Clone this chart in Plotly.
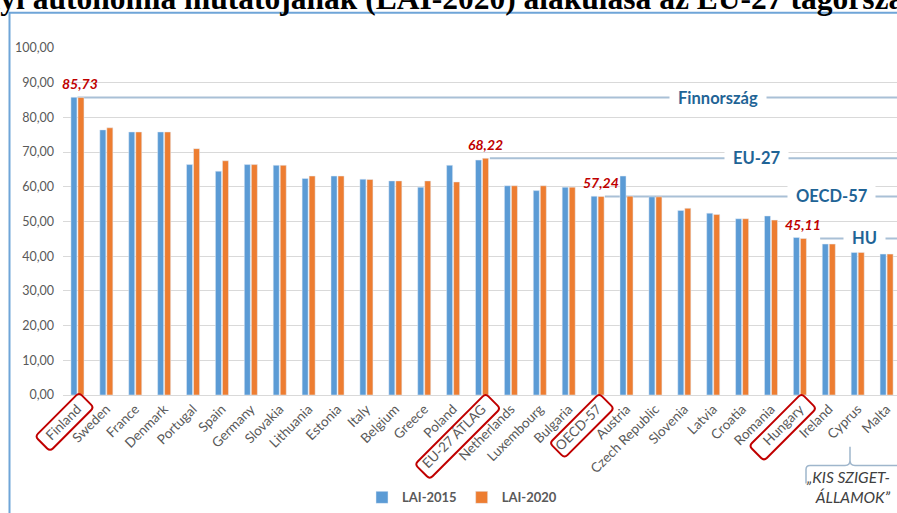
import math
import plotly.graph_objects as go

# ---------------- data ----------------
categories = ["Finland", "Sweden", "France", "Denmark", "Portugal", "Spain", "Germany",
              "Slovakia", "Lithuania", "Estonia", "Italy", "Belgium", "Greece", "Poland",
              "EU-27 ÁTLAG", "Netherlands", "Luxembourg", "Bulgaria", "OECD-57", "Austria",
              "Czech Republic", "Slovenia", "Latvia", "Croatia", "Romania", "Hungary",
              "Ireland", "Cyprus", "Malta"]
lai2015 = [85.8, 76.4, 75.8, 75.8, 66.4, 64.5, 66.4, 66.2, 62.4, 63.1, 62.2, 61.7, 59.9, 66.2,
           67.7, 60.3, 58.9, 59.9, 57.3, 63.1, 57.1, 53.2, 52.4, 50.8, 51.6, 45.4, 43.5, 41.1, 40.6]
lai2020 = [85.73, 77.0, 75.8, 75.8, 71.0, 67.5, 66.4, 66.2, 63.1, 63.1, 62.1, 61.7, 61.7, 61.4,
           68.22, 60.3, 60.3, 59.9, 57.24, 57.3, 57.1, 53.8, 52.0, 50.8, 50.4, 45.11, 43.5, 41.1, 40.6]
series_names = ["LAI-2015", "LAI-2020"]
y_ticks = [0, 10, 20, 30, 40, 50, 60, 70, 80, 90, 100]

highlighted = ["Finland", "EU-27 ÁTLAG", "OECD-57", "Hungary"]
ref_labels = ["Finnország", "EU-27", "OECD-57", "HU"]
title_text = "helyi autonómia mutatójának (LAI-2020) alakulása az EU-27 tagországaiban"
callout_text = "„KIS SZIGET-<br>ÁLLAMOK”"

# ---------------- styling ----------------
W, H = 897, 513
ML, MR, MT, MB = 63, 0, 48, 116
XR = [-0.5, 28.36]
BLUE, ORANGE = "#5B9BD5", "#ED7D31"
GRID = "#D9D9D9"
TXT = "#595959"
RED = "#C00000"
REFLINE = "#A9C0D6"
REFTXT = "#1F6496"
FONT = "Lato, 'Open Sans', sans-serif"

PW, PH = W - ML - MR, H - MT - MB


def px(x):
    return (x - ML) / PW


def py(y):
    return (H - MB - y) / PH


def fmt(v):
    return f"{v:.2f}".replace(".", ",")


fig = go.Figure()
fig.add_trace(go.Bar(x=categories, y=lai2015, name=series_names[0], marker_color=BLUE))
fig.add_trace(go.Bar(x=categories, y=lai2020, name=series_names[1], marker_color=ORANGE))

shapes = []
annotations = []

# reference lines with labels
line_start = [0.0, 0.27, 0.25, 0.7]       # offset from category centre
label_x = [22.16, 23.5, 26.1, 27.25]      # label positions (category units)
for name, lab, off, lx in zip(highlighted, ref_labels, line_start, label_x):
    i = categories.index(name)
    v = lai2020[i]
    shapes.append(dict(type="line", xref="x", yref="y", x0=i + off, x1=XR[1] + 1,
                       y0=v, y1=v, line=dict(color=REFLINE, width=2), layer="below"))
    annotations.append(dict(x=lx, y=v, xref="x", yref="y", showarrow=False,
                            text="\u00a0\u00a0" + lab + "\u00a0\u00a0", bgcolor="white",
                            borderpad=0,
                            font=dict(family=FONT, size=16.5, color=REFTXT, weight="bold")))
    # red value label
    annotations.append(dict(x=i, y=v, xref="x", yref="y", showarrow=False, text=fmt(v),
                            yshift=14, xshift=3, yanchor="middle",
                            font=dict(family=FONT, size=14, color=RED, weight="bold",
                                      style="italic")))

# red rounded boxes around highlighted tick labels
box_len = {"Finland": 62, "EU-27 ÁTLAG": 100, "OECD-57": 70, "Hungary": 74}
box_dx = {"Finland": 9, "EU-27 ÁTLAG": 11, "OECD-57": 9, "Hungary": 9}
box_dy = {"Finland": 5, "EU-27 ÁTLAG": 6, "OECD-57": 6, "Hungary": 6}


def rot_box(tx, ty, length, width, ang_deg, r=4):
    c, s = math.cos(math.radians(ang_deg)), math.sin(math.radians(ang_deg))
    d = (-c, -s)            # along the label, going down-left (y up positive)
    n = (s, -c)
    h = width / 2.0

    def P(u, v):
        return f"{tx + u * d[0] + v * n[0]:.2f},{ty + u * d[1] + v * n[1]:.2f}"

    L = length
    return (f"M{P(r, -h)} L{P(L - r, -h)} Q{P(L, -h)} {P(L, -h + r)} L{P(L, h - r)} "
            f"Q{P(L, h)} {P(L - r, h)} L{P(r, h)} Q{P(0, h)} {P(0, h - r)} "
            f"L{P(0, -h + r)} Q{P(0, -h)} {P(r, -h)} Z")


for name in highlighted:
    i = categories.index(name)
    xa = (i - XR[0]) / (XR[1] - XR[0])
    shapes.append(dict(type="path", xref="x domain", yref="y domain",
                       xsizemode="pixel", ysizemode="pixel", xanchor=xa, yanchor=0,
                       path=rot_box(box_dx[name], -box_dy[name], box_len[name], 21, 45),
                       line=dict(color=RED, width=2), layer="above"))

# outer blue frame (left & top edges)
shapes.append(dict(type="path", xref="paper", yref="paper",
                   path=f"M{px(9.5)},{py(530)} L{px(9.5)},{py(12.5)} L{px(905)},{py(12.5)}",
                   line=dict(color="#6FA5D8", width=2)))

# "KIS SZIGET-ÁLLAMOK" callout bracket
cp = (f"M{px(806)},{py(486)} L{px(806)},{py(472)} Q{px(806)},{py(468)} {px(810)},{py(468)} "
      f"L{px(845)},{py(468)} Q{px(850)},{py(468)} {px(850)},{py(463)} L{px(850)},{py(449)} "
      f"M{px(850)},{py(463)} Q{px(850)},{py(468)} {px(855)},{py(468)} L{px(905)},{py(468)}")
shapes.append(dict(type="path", xref="paper", yref="paper", path=cp,
                   line=dict(color="#9FB6CC", width=1.5)))
annotations.append(dict(x=px(893), y=py(490), xref="paper", yref="paper", showarrow=False,
                        xanchor="right", yanchor="middle", align="right", text=callout_text,
                        font=dict(family=FONT, size=15.5, color="#404040", style="italic")))

# cut-off title at the very top
annotations.append(dict(x=px(-42), y=py(18), xref="paper", yref="paper", showarrow=False,
                        xanchor="left", yanchor="bottom", text=title_text,
                        font=dict(family="'Liberation Serif', 'Times New Roman', serif",
                                  size=31.5, color="black", weight="bold")))

fig.update_layout(
    width=W, height=H,
    margin=dict(l=ML, r=MR, t=MT, b=MB, pad=0),
    paper_bgcolor="white", plot_bgcolor="white",
    separators=", ",
    barmode="group", bargap=0.515, bargroupgap=0.14,
    font=dict(family=FONT, size=12, color=TXT),
    showlegend=True,
    legend=dict(orientation="h", x=px(462), xanchor="center", y=py(500), yanchor="middle",
                font=dict(family=FONT, size=13, color=TXT, weight="bold"),
                itemwidth=30, traceorder="normal"),
    shapes=shapes, annotations=annotations,
)
fig.update_xaxes(range=XR, tickangle=-45, showgrid=False, showline=True, linecolor=GRID,
                 linewidth=1, ticks="", tickfont=dict(family=FONT, size=13.5, color=TXT),
                 fixedrange=True, automargin=False)
fig.update_yaxes(range=[0, 100], tickvals=y_ticks, tickformat=".2f", showgrid=True,
                 gridcolor=GRID, gridwidth=1, zeroline=False, showline=False, ticks="",
                 ticklabelstandoff=8, tickfont=dict(family=FONT, size=12.5, color=TXT),
                 fixedrange=True, automargin=False)

fig.write_html("out.html", config={"displayModeBar": False},
               post_script="document.body.style.margin='0';document.body.style.overflow='hidden';")
